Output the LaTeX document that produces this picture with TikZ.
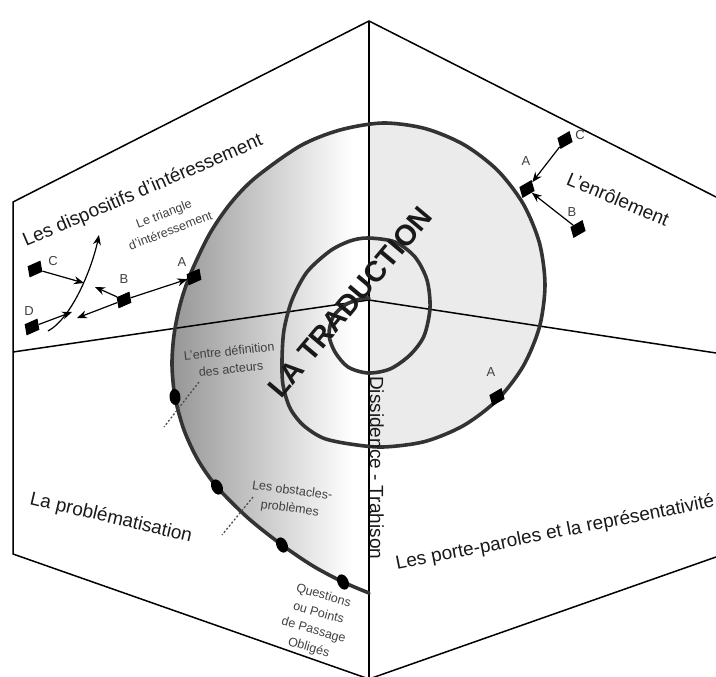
\documentclass[tikz,border=0pt]{standalone}
\usepackage{fontspec}
\setmainfont{Liberation Sans}
\usetikzlibrary{arrows.meta,shapes.geometric}
\begin{document}
\begin{tikzpicture}[x=1pt,y=-1pt,
  hexline/.style={line width=1.5pt,draw=black},
  spiralline/.style={line width=3.6pt,draw=black!80,line join=round,line cap=round},
  bigl/.style={font=\fontsize{19}{22}\selectfont,text=black!90,inner sep=0pt},
  smalll/.style={font=\fontsize{12.5}{18}\selectfont,text=black!75,align=center,inner sep=0pt},
  letterl/.style={font=\fontsize{13}{14}\selectfont,text=black!75,inner sep=0pt},
  actor/.style={rectangle,fill=black,draw=none,minimum width=14pt,minimum height=11pt,inner sep=0pt},
  pdot/.style={ellipse,fill=black,draw=none,minimum width=11pt,minimum height=16pt,inner sep=0pt},
  arr/.style={line width=1.2pt,draw=black,-{Stealth[length=10pt,width=8pt]}},
  pointer/.style={line width=1.3pt,draw=black!70,dash pattern=on 2pt off 2pt}
]
\useasboundingbox (0,0) rectangle (716,677);

% ---- shaded spiral region ----
\begin{scope}
\clip plot[smooth] coordinates {(369,593) (343,582) (313,566) (282,545) (248,518) (217,487) (198,460) (184,430) (175,397) (172,365) (174,335) (180,305) (190,275) (209,235) (230,204) (255,178) (300,146) (340,130) (383,123) (425,128.5) (464,144.7) (497.6,170.4) (523.3,204) (539.5,243.1) (545,285) (539.5,326.9) (523.3,366) (497.6,399.6) (464,425.3) (425,441.5) (383,447) (369,446.6)} -- cycle;
\shade[left color=black!42,right color=white] (168,100) rectangle (352,600);
\fill[white] (351,100) rectangle (369.5,600);
\fill[black!8] (369.5,100) rectangle (560,600);
\end{scope}

% ---- frame ----
\coordinate (top) at (369,21);
\coordinate (ul) at (13,202);
\coordinate (ll) at (13,554);
\coordinate (bot) at (369,679);
\coordinate (lr) at (716,557);
\coordinate (ur) at (716,197);
\coordinate (ctr) at (369,300);
\coordinate (ml) at (13,352);
\coordinate (mr) at (716,353);
\draw[hexline,line join=miter] (ur) -- (top) -- (ul) -- (ll) -- (bot) -- (lr);
\draw[hexline] (top) -- (bot);
\draw[hexline] (ml) -- (ctr) -- (mr);

% ---- spiral ----
\draw[spiralline] plot[smooth] coordinates {(369,593) (343,582) (313,566) (282,545) (248,518) (217,487) (198,460) (184,430) (175,397) (172,365) (174,335) (180,305) (190,275) (209,235) (230,204) (255,178) (300,146) (340,130) (383,123) (425,128.5) (464,144.7) (497.6,170.4) (523.3,204) (539.5,243.1) (545,285) (539.5,326.9) (523.3,366) (497.6,399.6) (464,425.3) (425,441.5) (383,447) (350,444) (323,438) (303,425) (290,408) (283,385) (282,360) (284,330) (292,300) (307,272) (330,251) (350,241) (368,238) (395,242) (415,257) (427,280) (430,308) (424,336) (410,355) (390,369) (368,373) (348,367) (335,352) (329,335) (333,317) (345,305) (360,299) (369,298)};

% ---- dots on spiral ----
\node[pdot,rotate=5] (d1) at (175,397) {};
\node[pdot,rotate=25] (d2) at (217,487) {};
\node[pdot,rotate=25] (d3) at (282,545) {};
\node[pdot,rotate=25] (d4) at (343,582) {};

% ---- main labels ----
\node[bigl,rotate=23.3,anchor=base west] (tDisp) at (26,247) {Les dispositifs d’intéressement};
\node[bigl,rotate=-23] (tEnr) at (618,199) {L’enrôlement};
\node[bigl,rotate=-13.3,anchor=base west] (tProb) at (29,504) {La problématisation};
\node[bigl,rotate=11.3,anchor=base west] (tPorte) at (397,570) {Les porte-paroles et la représentativité};
\node[bigl,rotate=-90,anchor=base west] (tDiss) at (370,376) {Dissidence - Trahison};
\node[font=\fontsize{29}{34}\selectfont\bfseries,text=black!90,rotate=50,inner sep=0pt] (tTrad) at (350,302) {LA TRADUCTION};

% ---- small labels ----
\node[smalll,rotate=21] (tTri) at (167,222) {Le triangle\\d’intéressement};
\node[smalll,rotate=6] (tEntre) at (230,360) {L’entre définition\\des acteurs};
\node[smalll,rotate=-7.5] (tObs) at (291,500) {Les obstacles-\\problèmes};
\node[smalll,rotate=-16] (tQ) at (316,622) {Questions\\ou Points\\de Passage\\Obligés};

% ---- pointers ----
\coordinate (p1a) at (199,382);
\coordinate (p1b) at (164,427);
\draw[pointer] (p1a) -- (p1b);
\coordinate (p2a) at (253,497);
\coordinate (p2b) at (222,535);
\draw[pointer] (p2a) -- (p2b);

% ---- left group (dispositifs) ----
\node[actor,rotate=24,xslant=0.25] (mA) at (194,277) {};
\node[actor,rotate=24,xslant=0.25] (mB) at (124,300) {};
\node[actor,rotate=24,xslant=0.25] (mC) at (35,269) {};
\node[actor,rotate=24,xslant=0.25] (mD) at (32,327) {};
\node[letterl] (lA) at (182,262) {A};
\node[letterl] (lB) at (124,279) {B};
\node[letterl] (lC) at (53,261) {C};
\node[letterl] (lD) at (29,311) {D};
\coordinate (cs) at (48,331);
\coordinate (ce) at (99,235);
\draw[arr] (cs) .. controls (72,318) and (92,268) .. (ce);
\coordinate (tC) at (84,283);
\coordinate (tD) at (72,312);
\coordinate (tB1) at (95,287);
\coordinate (tB2) at (77,318);
\draw[arr] (mC) -- (tC);
\draw[arr] (mD) -- (tD);
\draw[arr] (mB) -- (tB1);
\draw[arr] (mB) -- (tB2);
\draw[arr] (mB) -- (mA);

% ---- right group (enrolement) ----
\node[actor,rotate=30,xslant=0.25] (rA) at (527,189) {};
\node[actor,rotate=30,xslant=0.25] (rC) at (565,140) {};
\node[actor,rotate=30,xslant=0.25] (rB) at (578,229) {};
\node[letterl] (lrA) at (526,161) {A};
\node[letterl] (lrC) at (580,135) {C};
\node[letterl] (lrB) at (572,212) {B};
\draw[arr] (rC) -- (rA);
\draw[arr] (rB) -- (rA);

% ---- lower right A ----
\node[actor,rotate=30,xslant=0.25] (pA) at (497,397) {};
\node[letterl] (lpA) at (491,372) {A};
\end{tikzpicture}
\end{document}
